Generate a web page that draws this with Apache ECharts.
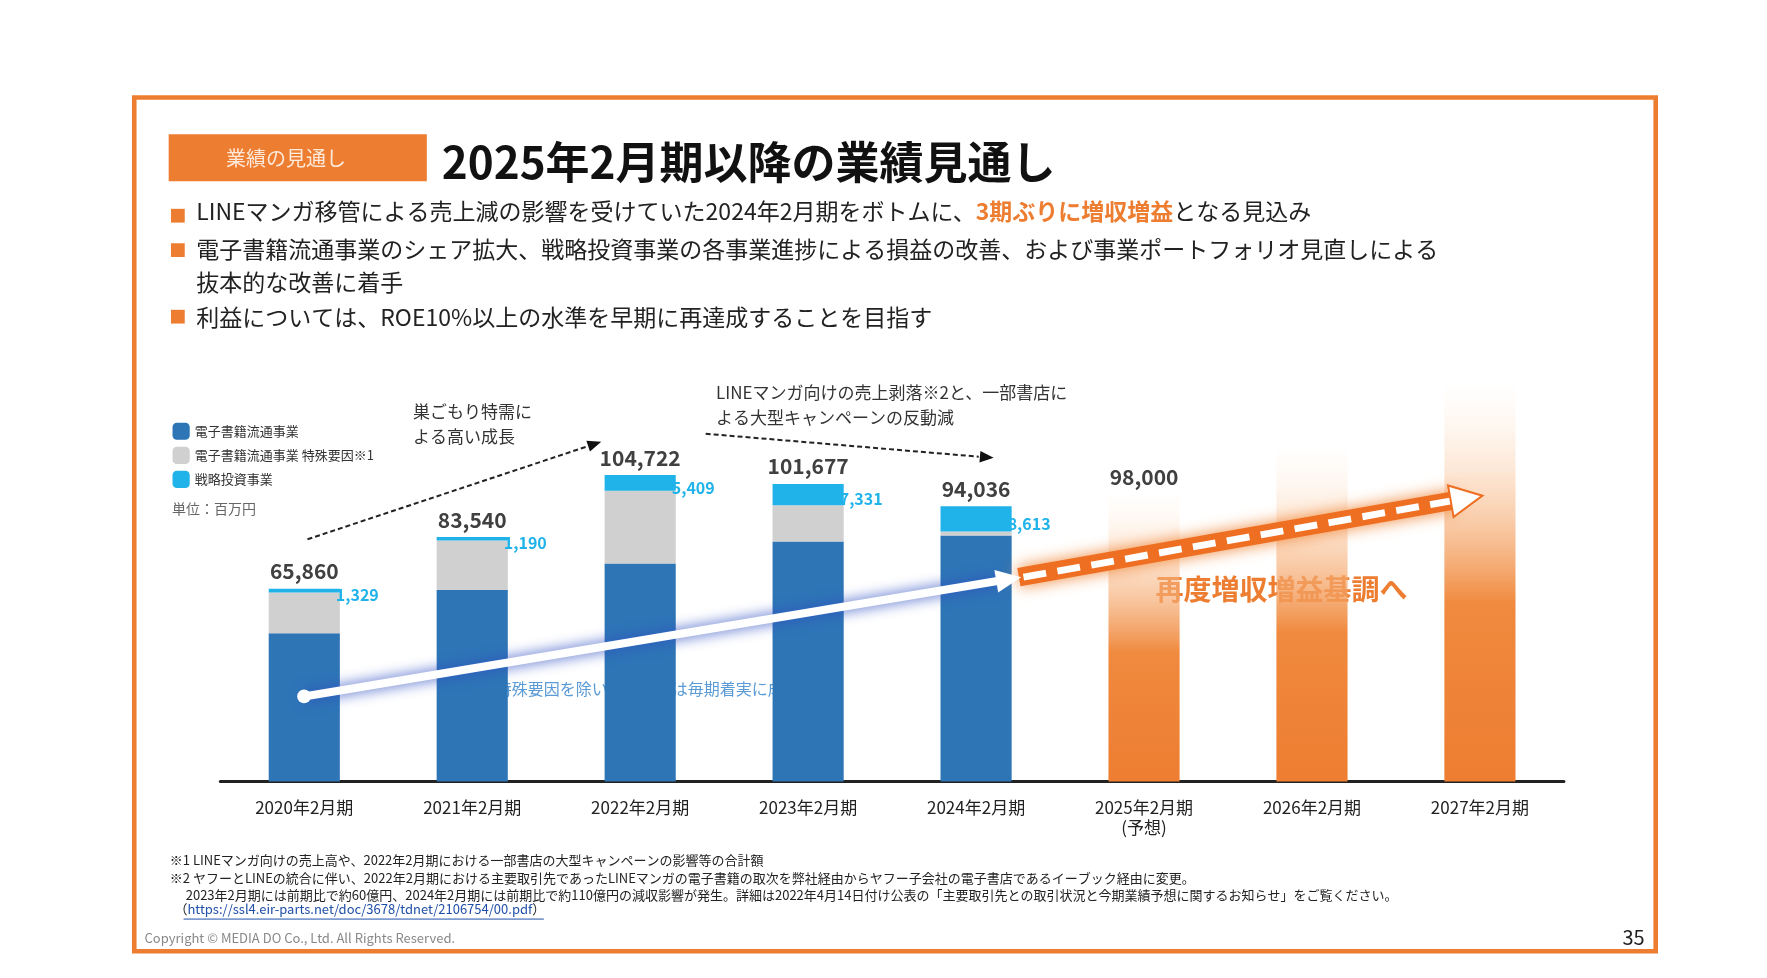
<!doctype html>
<html>
<head>
<meta charset="UTF-8">
<script src="https://cdn.jsdelivr.net/npm/echarts@6/dist/echarts.min.js"></script>
<style>
  html, body { margin: 0; padding: 0; background: #fff; }
  #main { width: 1767px; height: 978px; }
</style>
</head>
<body>
<div id="main"></div>
<script>
var categories = ['2020年2月期', '2021年2月期', '2022年2月期', '2023年2月期', '2024年2月期', '2025年2月期\n(予想)', '2026年2月期', '2027年2月期'];
var coreSales = [50600, 65500, 74500, 82000, 84000, null, null, null];
var specialSales = [13931, 16850, 24813, 12346, 1423, null, null, null];
var strategicSales = [1329, 1190, 5409, 7331, 8613, null, null, null];
var forecastSales = [null, null, null, null, null, 98000, 113000, 135000];
var totalLabels = ['65,860', '83,540', '104,722', '101,677', '94,036', '98,000', '', ''];

// layout was measured on a 1540px wide copy, scale up
var K = 1767 / 1540;
function p(v) { return v * K; }
function f(n) { return Math.round(n * K); }
var FONT = '"Noto Sans CJK JP", "Noto Sans", sans-serif';

var chart = echarts.init(document.getElementById('main'));

var forecastColor = {
  type: 'linear', x: 0, y: 1, x2: 0, y2: 0,
  colorStops: [
    { offset: 0, color: '#ed7d31' },
    { offset: 0.45, color: '#f08a3e' },
    { offset: 1, color: 'rgba(255,235,215,0.05)' }
  ]
};

function txt(x, y, s, size, color, weight) {
  return { type: 'text', left: p(x), top: p(y), style: { text: s, fontSize: f(size), fill: color || '#222', fontFamily: FONT, fontWeight: weight || 'normal', lineHeight: f(size * 1.45) } };
}
function bullet(y) {
  return { type: 'rect', shape: { x: p(149), y: p(y), width: p(12), height: p(12) }, style: { fill: '#ed7d31' } };
}
function arrowHead(x1, y1, x2, y2, len, w, fill, stroke) {
  var a = Math.atan2(y2 - y1, x2 - x1);
  var bx = x2 - len * Math.cos(a), by = y2 - len * Math.sin(a);
  var nx = -Math.sin(a) * w, ny = Math.cos(a) * w;
  return { type: 'polygon', shape: { points: [[p(x2), p(y2)], [p(bx + nx), p(by + ny)], [p(bx - nx), p(by - ny)]] },
    style: { fill: fill, stroke: stroke || null, lineWidth: 2 }, z: 20 };
}

var option = {
  animation: false,
  color: ['#2e75b6', '#d0d0d0', '#1fb3ea', '#ed7d31'],
  legend: {
    orient: 'vertical', left: p(146), top: p(364), itemWidth: p(15), itemHeight: p(15), itemGap: p(6),
    data: ['電子書籍流通事業', '電子書籍流通事業 特殊要因※1', '戦略投資事業'],
    textStyle: { fontSize: f(11), color: '#333', fontFamily: FONT }
  },
  grid: { left: p(192), right: 1767 - p(1363), top: p(324), bottom: 978 - p(681), containLabel: false },
  xAxis: {
    type: 'category', data: categories,
    axisLine: { lineStyle: { color: '#222', width: 3 } },
    axisTick: { show: false },
    axisLabel: { fontSize: f(15), color: '#222', fontFamily: FONT, margin: p(14), lineHeight: f(17) }
  },
  yAxis: { type: 'value', min: 0, max: 140000, show: false, splitLine: { show: false } },
  series: [
    { name: '電子書籍流通事業', type: 'bar', stack: 'a', barWidth: p(62), data: coreSales },
    { name: '電子書籍流通事業 特殊要因※1', type: 'bar', stack: 'a', data: specialSales },
    { name: '戦略投資事業', type: 'bar', stack: 'a', data: strategicSales,
      label: { show: true, position: 'right', distance: -4, offset: [0, p(4)], color: '#1fb3ea', fontWeight: 'bold', fontSize: f(14), fontFamily: FONT,
        formatter: function (d) { return d.value == null ? '' : d.value.toLocaleString('en-US'); } } },
    { name: '予想', type: 'bar', stack: 'a', data: forecastSales, itemStyle: { color: forecastColor } },
    { name: 'total', type: 'bar', stack: 'a', data: [0, 0, 0, 0, 0, 0, 0, 0], itemStyle: { color: 'transparent' },
      label: { show: true, position: 'top', distance: p(6), color: '#404040', fontWeight: 'bold', fontSize: f(18), fontFamily: FONT,
        formatter: function (d) { return totalLabels[d.dataIndex]; } } }
  ],
  graphic: [
    // frame
    { type: 'rect', shape: { x: p(117), y: p(85), width: p(1326), height: p(744) }, style: { fill: 'none', stroke: '#ed7d31', lineWidth: p(4) } },
    { type: 'rect', shape: { x: p(147), y: p(117), width: p(225), height: p(41) }, style: { fill: '#ed7d31' } },
    txt(197, 126, '業績の見通し', 17, '#fde9d9'),
    txt(385, 114, '2025年2月期以降の業績見通し', 38, '#111', 'bold'),
    bullet(182), bullet(212), bullet(270),
    { type: 'text', left: p(171), top: p(174), style: {
      text: '{a|LINEマンガ移管による売上減の影響を受けていた2024年2月期をボトムに、}{b|3期ぶりに増収増益}{a|となる見込み}',
      rich: { a: { fontSize: f(20), fill: '#222', fontFamily: FONT }, b: { fontSize: f(20), fill: '#ed7d31', fontWeight: 'bold', fontFamily: FONT } } } },
    txt(171, 203, '電子書籍流通事業のシェア拡大、戦略投資事業の各事業進捗による損益の改善、および事業ポートフォリオ見直しによる\n抜本的な改善に着手', 20),
    txt(171, 262, '利益については、ROE10%以上の水準を早期に再達成することを目指す', 20),
    txt(150, 435, '単位：百万円', 12, '#666'),
    // annotations
    txt(360, 348, '巣ごもり特需に\nよる高い成長', 15, '#333'),
    { type: 'line', shape: { x1: p(268), y1: p(470), x2: p(512), y2: p(389) }, style: { stroke: '#222', lineWidth: 2, lineDash: [5, 3] } },
    arrowHead(268, 470, 524, 385, 12, 5, '#111'),
    txt(624, 331, 'LINEマンガ向けの売上剥落※2と、一部書店に\nよる大型キャンペーンの反動減', 15, '#333'),
    { type: 'line', shape: { x1: p(615), y1: p(378), x2: p(853), y2: p(398) }, style: { stroke: '#222', lineWidth: 2, lineDash: [5, 3] } },
    arrowHead(615, 378, 866, 399, 12, 5, '#111'),
    // growth arrow
    { type: 'line', z: 15, shape: { x1: p(265), y1: p(607), x2: p(872), y2: p(506) }, style: { stroke: '#fff', lineWidth: p(7), shadowColor: '#2f4fc0', shadowBlur: 14 } },
    arrowHead(265, 607, 890, 503, 22, 10, '#fff'),
    { type: 'circle', z: 16, shape: { cx: p(265), cy: p(607), r: p(6) }, style: { fill: '#fff' } },
    txt(432, 590, '特殊要因を除いた売上高は毎期着実に成長', 14, '#5b9bd5'),
    // forecast arrow
    { type: 'line', z: 15, shape: { x1: p(888), y1: p(503), x2: p(1268), y2: p(436) }, style: { stroke: '#ee6f22', lineWidth: p(16), shadowColor: '#f08a3e', shadowBlur: 16 } },
    { type: 'line', z: 16, shape: { x1: p(892), y1: p(503), x2: p(1268), y2: p(436) }, style: { stroke: '#fff', lineWidth: p(6), lineDash: [p(20), p(10)] } },
    arrowHead(888, 503, 1292, 432, 28, 14, '#fff', '#ee6f22'),
    txt(1007, 496, '再度増収増益基調へ', 24, '#ed7d31', 'bold'),
    // footnotes
    txt(148, 742, '※1 LINEマンガ向けの売上高や、2022年2月期における一部書店の大型キャンペーンの影響等の合計額', 11, '#222'),
    txt(148, 757, '※2 ヤフーとLINEの統合に伴い、2022年2月期における主要取引先であったLINEマンガの電子書籍の取次を弊社経由からヤフー子会社の電子書店であるイーブック経由に変更。', 11, '#222'),
    txt(148, 772, '　 2023年2月期には前期比で約60億円、2024年2月期には前期比で約110億円の減収影響が発生。詳細は2022年4月14日付け公表の「主要取引先との取引状況と今期業績予想に関するお知らせ」をご覧ください。', 11, '#222'),
    { type: 'text', left: p(152), top: p(787), style: { text: '{a|（}{u|https://ssl4.eir-parts.net/doc/3678/tdnet/2106754/00.pdf}{a|）}',
      rich: { a: { fontSize: f(11), fill: '#222', fontFamily: FONT }, u: { fontSize: f(11), fill: '#1f4fa8', fontFamily: FONT, textDecoration: 'underline' } } } },
    { type: 'line', shape: { x1: p(160), y1: p(801), x2: p(474), y2: p(801) }, style: { stroke: '#1f4fa8', lineWidth: 1 } },
    txt(126, 810, 'Copyright © MEDIA DO Co., Ltd. All Rights Reserved.', 11, '#888'),
    txt(1414, 805, '35', 17, '#222')
  ]
};
chart.setOption(option);
</script>
</body>
</html>
